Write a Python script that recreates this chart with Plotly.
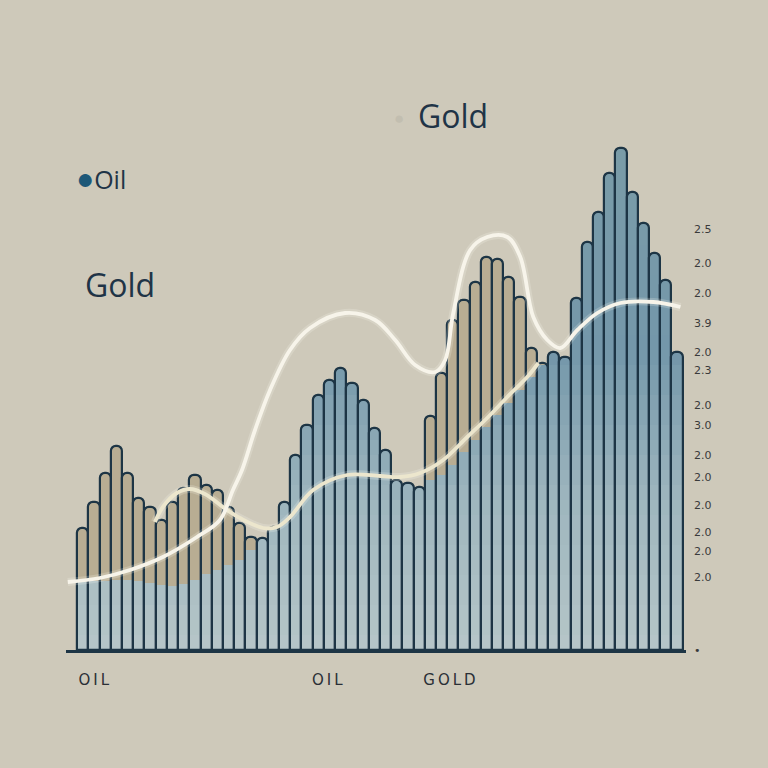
import plotly.graph_objects as go

# ---------------- data ----------------
bar_index = list(range(54))
tan_values = [24.4, 29.6, 35.4, 40.8, 35.4, 30.4, 28.6, 26.0, 29.6, 32.4, 35.0, 33.0, 32.0, 28.6, 25.4, 22.6] + [0] * 15 + \
             [46.8, 55.4, 66.0, 70.0, 73.6, 78.6, 78.2, 74.6, 70.6, 60.4, 57.4] + [0] * 12
blue_values = [13.6, 13.8, 13.8, 14.0, 14.0, 13.8, 13.4, 13.0, 12.8, 13.2,
               14.0, 15.2, 16.0, 17.0, 18.0, 20.0, 22.4, 24.6, 29.6, 39.0,
               45.0, 51.0, 54.0, 56.4, 53.4, 50.0, 44.4, 40.0, 34.0, 33.4,
               32.6, 34.0, 35.0, 37.0, 39.6, 42.0, 44.6, 47.0, 49.4, 52.0,
               54.6, 57.0, 59.6, 58.6, 70.4, 81.6, 87.6, 95.4, 100.4, 91.6,
               85.4, 79.4, 74.0, 59.6]

line_a_x = [-1.34, 1.52, 4.2, 7.14, 10.18, 12.23, 13.39, 14.2, 15.36, 16.7, 18.48, 20.27, 23.39, 26.07, 27.86,
            29.64, 31.43, 32.32, 33.04, 34.55, 36.07, 37.86, 39.02, 40.18, 41.43, 42.59, 44.11, 45.89, 47.95,
            50.89, 53.3]
line_a_y = [13.6, 14.4, 16.0, 18.6, 22.6, 26.0, 32.0, 36.0, 44.0, 52.0, 60.0, 64.4, 67.4, 66.0, 62.0,
            57.0, 55.6, 58.0, 67.4, 80.0, 82.6, 82.6, 78.6, 66.6, 62.0, 60.4, 64.0, 67.4, 69.4,
            69.6, 68.6]

line_b_x = [6.43, 7.14, 8.39, 9.55, 10.89, 12.86, 14.02, 16.07, 17.32, 18.48, 20.54, 23.57, 26.52, 28.30,
            30.09, 32.14, 34.29, 36.07, 37.86, 39.64, 40.63]
line_b_y = [25.6, 28.6, 31.4, 32.2, 31.2, 28.0, 26.4, 24.4, 24.6, 26.6, 32.0, 35.0, 34.8, 34.6,
            35.4, 38.0, 42.6, 46.4, 50.6, 54.6, 57.4]

x_tick_vals = [0.98, 21.8, 32.7]
x_tick_text = ["OIL", "OIL", "GOLD"]
right_tick_vals = [84.2, 77.4, 71.4, 65.4, 59.6, 56.0, 49.0, 45.0, 39.0, 34.6, 29.0, 23.6, 19.8, 14.6, 0]
right_tick_text = ["2.5", "2.0", "2.0", "3.9", "2.0", "2.3", "2.0", "3.0", "2.0", "2.0", "2.0", "2.0", "2.0", "2.0", "•"]

# ---------------- style ----------------
BG = "#cec9ba"
TAN = "#b8ad93"
OUTLINE = "#1d3545"
stops = [(0, (182, 198, 200)), (30, (158, 182, 190)), (60, (116, 151, 170)), (100, (122, 156, 168))]


def blue_color(v):
    v = max(0, min(100, v))
    for (a, ca), (b, cb) in zip(stops[:-1], stops[1:]):
        if a <= v <= b:
            t = (v - a) / (b - a)
            c = [round(ca[k] + (cb[k] - ca[k]) * t) for k in range(3)]
            return "rgb(%d,%d,%d)" % tuple(c)
    return "rgb(%d,%d,%d)" % stops[-1][1]


def spaced(s):
    return "\u2009".join(s)


fig = go.Figure()

# tan bars (rounded tops)
fig.add_trace(go.Bar(x=bar_index, y=[t if t > 0 else None for t in tan_values],
                     marker=dict(color=TAN, line=dict(width=0), cornerradius=5),
                     hoverinfo="skip", showlegend=False))

# blue bars whose top is visible (rounded)
blue_top = [b if b >= t else None for b, t in zip(blue_values, tan_values)]
fig.add_trace(go.Bar(x=bar_index, y=blue_top,
                     marker=dict(color=[blue_color(b) for b in blue_values], line=dict(width=0), cornerradius=5),
                     hoverinfo="skip", showlegend=False))
# blue parts under tan (square)
blue_under = [b if b < t else None for b, t in zip(blue_values, tan_values)]
fig.add_trace(go.Bar(x=bar_index, y=blue_under,
                     marker=dict(color=[blue_color(b) for b in blue_values], line=dict(width=0)),
                     hoverinfo="skip", showlegend=False))

# gradient bands (square), lighter toward the base
for level in range(96, 0, -3):
    ys = [level if b > level + 1.5 else None for b in blue_values]
    if all(v is None for v in ys):
        continue
    fig.add_trace(go.Bar(x=bar_index, y=ys,
                         marker=dict(color=blue_color(level - 1.5), line=dict(width=0)),
                         hoverinfo="skip", showlegend=False))

# outlines
fig.add_trace(go.Bar(x=bar_index, y=[max(b, t) for b, t in zip(blue_values, tan_values)],
                     marker=dict(color="rgba(0,0,0,0)", line=dict(color=OUTLINE, width=2.2), cornerradius=5),
                     hoverinfo="skip", showlegend=False))

# lines with soft glow
for xs, ys, col in [(line_b_x, line_b_y, "#ece6cd"), (line_a_x, line_a_y, "#f7f4ea")]:
    fig.add_trace(go.Scatter(x=xs, y=ys, mode="lines",
                             line=dict(color="rgba(255,255,245,0.2)", width=8, shape="spline", smoothing=1.0),
                             hoverinfo="skip", showlegend=False))
    fig.add_trace(go.Scatter(x=xs, y=ys, mode="lines",
                             line=dict(color=col, width=3.8, shape="spline", smoothing=1.0),
                             hoverinfo="skip", showlegend=False))

fig.update_layout(
    width=768, height=768, autosize=False,
    paper_bgcolor=BG, plot_bgcolor=BG,
    margin=dict(l=66, r=82, t=100, b=118),
    barmode="overlay", bargap=0,
    showlegend=False,
    xaxis=dict(range=[-1.5, 53.8], showgrid=False, zeroline=False,
               showline=True, linecolor=OUTLINE, linewidth=3,
               tickmode="array", tickvals=x_tick_vals, ticktext=[spaced(t) for t in x_tick_text],
               ticks="", ticklabelstandoff=14,
               tickfont=dict(family="DejaVu Sans", size=15, color="#2a2f36")),
    yaxis=dict(range=[0, 110], side="right", showgrid=False, zeroline=False, showline=False,
               tickmode="array", tickvals=right_tick_vals, ticktext=right_tick_text,
               ticks="", ticklabelstandoff=7,
               tickfont=dict(family="DejaVu Sans", size=11, color="#3a3a3a")),
    annotations=[
        dict(x=-0.75, y=94.6, xref="x", yref="y", xanchor="left", yanchor="middle", showarrow=False,
             text="<span style='color:#1d5878;font-size:30px'>●</span>Oil",
             font=dict(family="Open Sans", size=25, color="#1f3447")),
        dict(x=0.0, y=73.2, xref="x", yref="y", xanchor="left", yanchor="middle", showarrow=False,
             text="Gold", font=dict(family="Open Sans", size=32, color="#1f3447")),
        dict(x=28.2, y=106.6, xref="x", yref="y", xanchor="center", yanchor="middle", showarrow=False,
             text="●", font=dict(size=17, color="#c2beb0")),
        dict(x=29.7, y=107, xref="x", yref="y", xanchor="left", yanchor="middle", showarrow=False,
             text="Gold", font=dict(family="Open Sans", size=32, color="#1f3447")),
    ],
)

fig.write_html("out.html", config={"displayModeBar": False},
               post_script="document.body.style.margin='0';document.body.style.overflow='hidden';")
